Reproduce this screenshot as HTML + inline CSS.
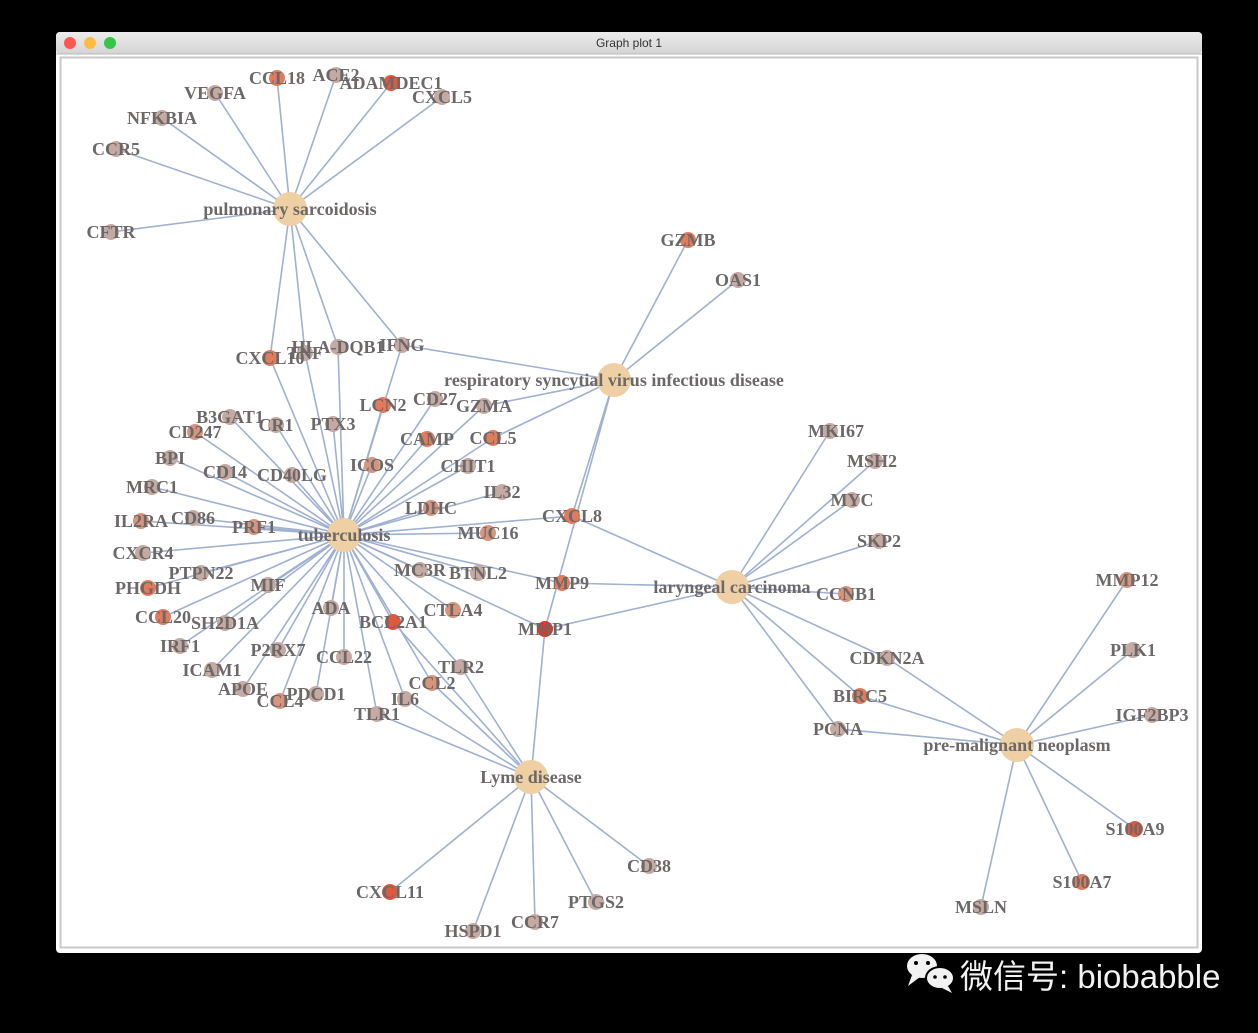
<!DOCTYPE html>
<html><head><meta charset="utf-8"><style>
html,body{margin:0;padding:0;background:#000;width:1258px;height:1033px;overflow:hidden}
</style></head><body>
<svg width="1258" height="1033" viewBox="0 0 1258 1033" xmlns="http://www.w3.org/2000/svg">
<defs><linearGradient id="tb" x1="0" y1="0" x2="0" y2="1"><stop offset="0" stop-color="#ececec"/><stop offset="1" stop-color="#d4d4d4"/></linearGradient></defs>
<rect x="0" y="0" width="1258" height="1033" fill="#000"/>
<rect x="56" y="32" width="1146" height="921" rx="4" fill="#fff"/>
<rect x="56" y="32" width="1146" height="22" rx="4" fill="url(#tb)"/>
<line x1="56" y1="54" x2="1202" y2="54" stroke="#b8b8b8"/>
<circle cx="70" cy="43" r="6" fill="#fc5753"/><circle cx="90" cy="43" r="6" fill="#fdbc40"/><circle cx="110" cy="43" r="6" fill="#33c748"/>
<text x="629" y="47" text-anchor="middle" font-family="Liberation Sans, sans-serif" font-size="12" fill="#333">Graph plot 1</text>
<rect x="60.5" y="57.5" width="1137" height="890" fill="#fff" stroke="#c8c8c8" stroke-width="2"/>
<g stroke="#9fb0d0" stroke-width="1.6">
<line x1="290" y1="209" x2="277" y2="78"/><line x1="290" y1="209" x2="336" y2="75"/><line x1="290" y1="209" x2="391" y2="83"/><line x1="290" y1="209" x2="442" y2="97"/><line x1="290" y1="209" x2="215" y2="93"/><line x1="290" y1="209" x2="162" y2="118"/><line x1="290" y1="209" x2="116" y2="149"/><line x1="290" y1="209" x2="111" y2="232"/><line x1="290" y1="209" x2="270" y2="358"/><line x1="290" y1="209" x2="305" y2="353"/><line x1="290" y1="209" x2="338" y2="347"/><line x1="290" y1="209" x2="402" y2="345"/>
<line x1="614" y1="380" x2="688" y2="240"/><line x1="614" y1="380" x2="738" y2="280"/><line x1="614" y1="380" x2="402" y2="345"/><line x1="614" y1="380" x2="484" y2="406"/><line x1="614" y1="380" x2="493" y2="438"/><line x1="614" y1="380" x2="572" y2="516"/><line x1="614" y1="380" x2="545" y2="629"/>
<line x1="732" y1="587" x2="830" y2="431"/><line x1="732" y1="587" x2="875" y2="461"/><line x1="732" y1="587" x2="852" y2="500"/><line x1="732" y1="587" x2="879" y2="541"/><line x1="732" y1="587" x2="846" y2="594"/><line x1="732" y1="587" x2="887" y2="658"/><line x1="732" y1="587" x2="860" y2="696"/><line x1="732" y1="587" x2="838" y2="729"/><line x1="732" y1="587" x2="572" y2="516"/><line x1="732" y1="587" x2="562" y2="583"/><line x1="732" y1="587" x2="545" y2="629"/>
<line x1="1017" y1="745" x2="887" y2="658"/><line x1="1017" y1="745" x2="860" y2="696"/><line x1="1017" y1="745" x2="838" y2="729"/><line x1="1017" y1="745" x2="1127" y2="580"/><line x1="1017" y1="745" x2="1133" y2="650"/><line x1="1017" y1="745" x2="1152" y2="715"/><line x1="1017" y1="745" x2="1135" y2="829"/><line x1="1017" y1="745" x2="1082" y2="882"/><line x1="1017" y1="745" x2="981" y2="907"/>
<line x1="531" y1="777" x2="545" y2="629"/><line x1="531" y1="777" x2="461" y2="667"/><line x1="531" y1="777" x2="432" y2="683"/><line x1="531" y1="777" x2="405" y2="699"/><line x1="531" y1="777" x2="377" y2="714"/><line x1="531" y1="777" x2="393" y2="622"/><line x1="531" y1="777" x2="390" y2="892"/><line x1="531" y1="777" x2="473" y2="931"/><line x1="531" y1="777" x2="535" y2="922"/><line x1="531" y1="777" x2="596" y2="902"/><line x1="531" y1="777" x2="649" y2="866"/>
<line x1="344" y1="535" x2="270" y2="358"/><line x1="344" y1="535" x2="305" y2="353"/><line x1="344" y1="535" x2="338" y2="347"/><line x1="344" y1="535" x2="402" y2="345"/><line x1="344" y1="535" x2="484" y2="406"/><line x1="344" y1="535" x2="493" y2="438"/><line x1="344" y1="535" x2="572" y2="516"/><line x1="344" y1="535" x2="562" y2="583"/><line x1="344" y1="535" x2="545" y2="629"/>
<line x1="344" y1="535" x2="383" y2="405"/><line x1="344" y1="535" x2="435" y2="399"/><line x1="344" y1="535" x2="427" y2="439"/><line x1="344" y1="535" x2="372" y2="465"/><line x1="344" y1="535" x2="468" y2="466"/><line x1="344" y1="535" x2="502" y2="492"/><line x1="344" y1="535" x2="431" y2="508"/><line x1="344" y1="535" x2="488" y2="533"/><line x1="344" y1="535" x2="230" y2="417"/><line x1="344" y1="535" x2="276" y2="425"/><line x1="344" y1="535" x2="333" y2="424"/><line x1="344" y1="535" x2="195" y2="432"/><line x1="344" y1="535" x2="170" y2="458"/><line x1="344" y1="535" x2="225" y2="472"/><line x1="344" y1="535" x2="292" y2="475"/><line x1="344" y1="535" x2="152" y2="487"/><line x1="344" y1="535" x2="141" y2="521"/><line x1="344" y1="535" x2="193" y2="518"/><line x1="344" y1="535" x2="254" y2="527"/><line x1="344" y1="535" x2="143" y2="553"/><line x1="344" y1="535" x2="201" y2="573"/><line x1="344" y1="535" x2="268" y2="585"/><line x1="344" y1="535" x2="148" y2="588"/><line x1="344" y1="535" x2="163" y2="617"/><line x1="344" y1="535" x2="225" y2="623"/><line x1="344" y1="535" x2="331" y2="608"/><line x1="344" y1="535" x2="420" y2="570"/><line x1="344" y1="535" x2="478" y2="573"/><line x1="344" y1="535" x2="453" y2="610"/><line x1="344" y1="535" x2="393" y2="622"/><line x1="344" y1="535" x2="180" y2="646"/><line x1="344" y1="535" x2="278" y2="650"/><line x1="344" y1="535" x2="344" y2="657"/><line x1="344" y1="535" x2="212" y2="670"/><line x1="344" y1="535" x2="461" y2="667"/><line x1="344" y1="535" x2="432" y2="683"/><line x1="344" y1="535" x2="243" y2="689"/><line x1="344" y1="535" x2="316" y2="694"/><line x1="344" y1="535" x2="280" y2="701"/><line x1="344" y1="535" x2="405" y2="699"/><line x1="344" y1="535" x2="377" y2="714"/>
</g>
<g stroke="none">
<g fill="#c5aaa3">
<circle cx="336" cy="75" r="8"/><circle cx="442" cy="97" r="8"/><circle cx="215" cy="93" r="8"/><circle cx="162" cy="118" r="8"/><circle cx="116" cy="149" r="8"/><circle cx="111" cy="232" r="8"/><circle cx="305" cy="353" r="8"/><circle cx="338" cy="347" r="8"/><circle cx="402" cy="345" r="8"/><circle cx="738" cy="280" r="8"/><circle cx="484" cy="406" r="8"/><circle cx="435" cy="399" r="8"/><circle cx="468" cy="466" r="8"/><circle cx="502" cy="492" r="8"/><circle cx="230" cy="417" r="8"/><circle cx="276" cy="425" r="8"/><circle cx="333" cy="424" r="8"/><circle cx="170" cy="458" r="8"/><circle cx="225" cy="472" r="8"/><circle cx="292" cy="475" r="8"/><circle cx="152" cy="487" r="8"/><circle cx="193" cy="518" r="8"/><circle cx="143" cy="553" r="8"/><circle cx="201" cy="573" r="8"/><circle cx="268" cy="585" r="8"/><circle cx="225" cy="623" r="8"/><circle cx="331" cy="608" r="8"/><circle cx="420" cy="570" r="8"/><circle cx="478" cy="573" r="8"/><circle cx="180" cy="646" r="8"/><circle cx="278" cy="650" r="8"/><circle cx="344" cy="657" r="8"/><circle cx="212" cy="670" r="8"/><circle cx="461" cy="667" r="8"/><circle cx="243" cy="689" r="8"/><circle cx="316" cy="694" r="8"/><circle cx="405" cy="699" r="8"/><circle cx="377" cy="714" r="8"/><circle cx="473" cy="931" r="8"/><circle cx="535" cy="922" r="8"/><circle cx="596" cy="902" r="8"/><circle cx="649" cy="866" r="8"/><circle cx="830" cy="431" r="8"/><circle cx="875" cy="461" r="8"/><circle cx="852" cy="500" r="8"/><circle cx="879" cy="541" r="8"/><circle cx="887" cy="658" r="8"/><circle cx="838" cy="729" r="8"/><circle cx="1133" cy="650" r="8"/><circle cx="1152" cy="715" r="8"/><circle cx="981" cy="907" r="8"/>
</g>
<g fill="#d8957e">
<circle cx="195" cy="432" r="8"/><circle cx="141" cy="521" r="8"/><circle cx="254" cy="527" r="8"/><circle cx="431" cy="508" r="8"/><circle cx="488" cy="533" r="8"/><circle cx="453" cy="610" r="8"/><circle cx="432" cy="683" r="8"/><circle cx="280" cy="701" r="8"/><circle cx="372" cy="465" r="8"/><circle cx="846" cy="594" r="8"/><circle cx="1127" cy="580" r="8"/>
</g>
<g fill="#e27a5c">
<circle cx="277" cy="78" r="8"/><circle cx="688" cy="240" r="8"/><circle cx="383" cy="405" r="8"/><circle cx="427" cy="439" r="8"/><circle cx="493" cy="438" r="8"/><circle cx="572" cy="516" r="8"/><circle cx="562" cy="583" r="8"/><circle cx="148" cy="588" r="8"/><circle cx="163" cy="617" r="8"/><circle cx="860" cy="696" r="8"/><circle cx="1082" cy="882" r="8"/><circle cx="270" cy="358" r="8"/>
</g>
<g fill="#e0583e">
<circle cx="391" cy="83" r="8"/><circle cx="393" cy="622" r="8"/><circle cx="390" cy="892" r="8"/><circle cx="1135" cy="829" r="8"/>
</g>
<circle cx="545" cy="629" r="8" fill="#d93a2a"/>
<g fill="#eed0a4">
<circle cx="290" cy="209" r="17"/><circle cx="614" cy="380" r="17"/><circle cx="344" cy="535" r="17"/><circle cx="732" cy="587" r="17"/><circle cx="531" cy="777" r="17"/><circle cx="1017" cy="745" r="17"/>
</g>
</g>
<g font-family="Liberation Serif, serif" font-weight="bold" font-size="18" fill="#6c6868" text-anchor="middle">
<text x="290" y="215">pulmonary sarcoidosis</text><text x="614" y="386">respiratory syncytial virus infectious disease</text><text x="344" y="541">tuberculosis</text><text x="732" y="593">laryngeal carcinoma</text><text x="531" y="783">Lyme disease</text><text x="1017" y="751">pre-malignant neoplasm</text>
<text x="277" y="84">CCL18</text><text x="336" y="81">ACE2</text><text x="391" y="89">ADAMDEC1</text><text x="442" y="103">CXCL5</text><text x="215" y="99">VEGFA</text><text x="162" y="124">NFKBIA</text><text x="116" y="155">CCR5</text><text x="111" y="238">CFTR</text>
<text x="270" y="364">CXCL10</text><text x="305" y="359">TNF</text><text x="338" y="353">HLA-DQB1</text><text x="402" y="351">IFNG</text>
<text x="688" y="246">GZMB</text><text x="738" y="286">OAS1</text><text x="484" y="412">GZMA</text><text x="493" y="444">CCL5</text><text x="572" y="522">CXCL8</text>
<text x="383" y="411">LCN2</text><text x="435" y="405">CD27</text><text x="427" y="445">CAMP</text><text x="372" y="471">ICOS</text><text x="468" y="472">CHIT1</text><text x="502" y="498">IL32</text><text x="431" y="514">LDHC</text><text x="488" y="539">MUC16</text>
<text x="230" y="423">B3GAT1</text><text x="276" y="431">CR1</text><text x="333" y="430">PTX3</text><text x="195" y="438">CD247</text><text x="170" y="464">BPI</text><text x="225" y="478">CD14</text><text x="292" y="481">CD40LG</text><text x="152" y="493">MRC1</text><text x="141" y="527">IL2RA</text><text x="193" y="524">CD86</text><text x="254" y="533">PRF1</text><text x="143" y="559">CXCR4</text><text x="201" y="579">PTPN22</text><text x="268" y="591">MIF</text><text x="148" y="594">PHGDH</text><text x="163" y="623">CCL20</text><text x="225" y="629">SH2D1A</text><text x="331" y="614">ADA</text><text x="420" y="576">MC3R</text><text x="478" y="579">BTNL2</text><text x="562" y="589">MMP9</text><text x="453" y="616">CTLA4</text><text x="393" y="628">BCL2A1</text><text x="545" y="635">MMP1</text><text x="180" y="652">IRF1</text><text x="278" y="656">P2RX7</text><text x="344" y="663">CCL22</text><text x="212" y="676">ICAM1</text><text x="461" y="673">TLR2</text><text x="432" y="689">CCL2</text><text x="243" y="695">APOE</text><text x="316" y="700">PDCD1</text><text x="280" y="707">CCL4</text><text x="405" y="705">IL6</text><text x="377" y="720">TLR1</text>
<text x="390" y="898">CXCL11</text><text x="473" y="937">HSPD1</text><text x="535" y="928">CCR7</text><text x="596" y="908">PTGS2</text><text x="649" y="872">CD38</text>
<text x="836" y="437">MKI67</text><text x="872" y="467">MSH2</text><text x="852" y="506">MYC</text><text x="879" y="547">SKP2</text><text x="846" y="600">CCNB1</text><text x="887" y="664">CDKN2A</text><text x="860" y="702">BIRC5</text><text x="838" y="735">PCNA</text>
<text x="1127" y="586">MMP12</text><text x="1133" y="656">PLK1</text><text x="1152" y="721">IGF2BP3</text><text x="1135" y="835">S100A9</text><text x="1082" y="888">S100A7</text><text x="981" y="913">MSLN</text>
</g>
<g fill="#f2f2f2">
<ellipse cx="922" cy="966" rx="15" ry="12"/><path d="M912 975 L908 986 L920 977 Z"/>
<ellipse cx="940" cy="978" rx="14" ry="11" stroke="#000" stroke-width="2"/><path d="M948 986 L952 993 L942 988 Z"/>
</g>
<g fill="#000"><circle cx="916" cy="963" r="2"/><circle cx="928" cy="963" r="2"/><circle cx="935" cy="977" r="1.8"/><circle cx="945" cy="977" r="1.8"/></g>
<text x="960" y="988" font-family="Liberation Sans, 'Noto Sans CJK SC', sans-serif" font-size="33" fill="#f2f2f2">微信号: biobabble</text>
</svg>
</body></html>
